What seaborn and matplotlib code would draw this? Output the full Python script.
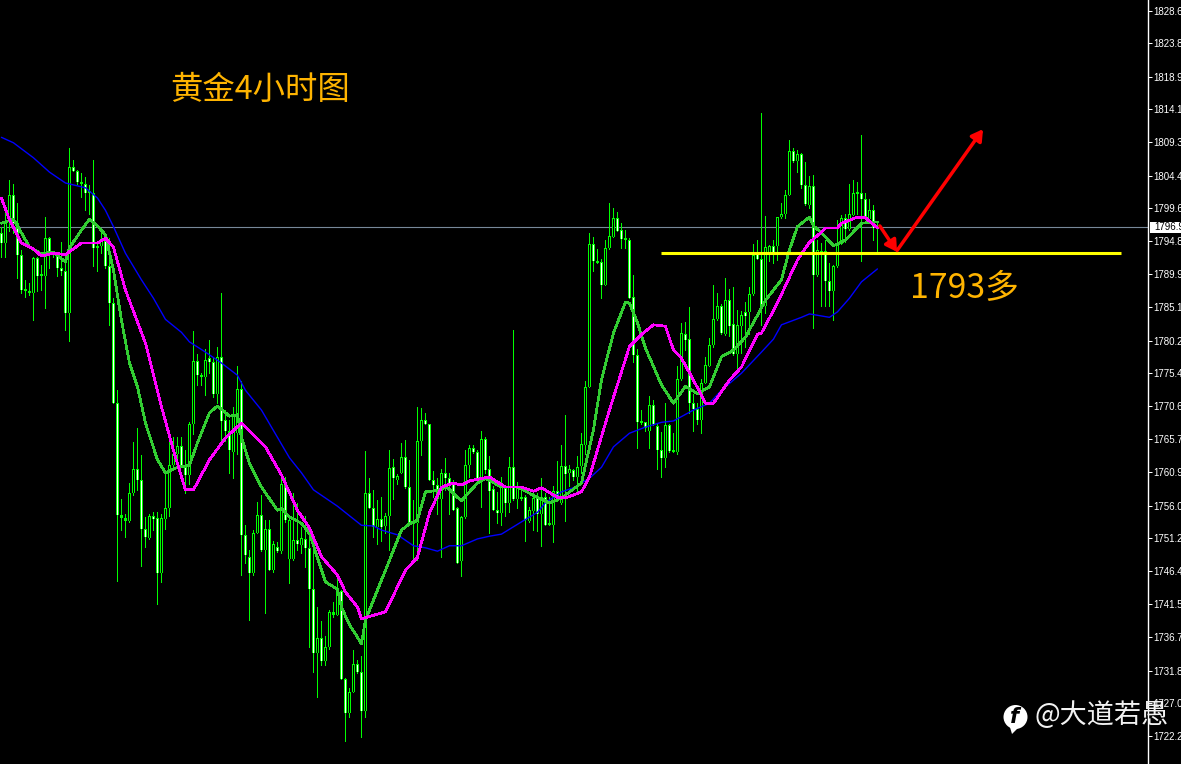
import seaborn as sns
import matplotlib.pyplot as plt
import pandas as pd
import numpy as np
from matplotlib.patches import Circle, Polygon, Rectangle
from matplotlib.transforms import IdentityTransform

# 4 hour gold candles
body_hi = [
    1795.9, 1797.5, 1801.5, 1801.5, 1797.5, 1792.7, 1787.7, 1787.3, 1792.3, 1792.3,
    1789.8, 1795.2, 1795.2, 1793.2, 1793.0, 1790.9, 1790.4, 1805.6, 1805.6, 1805.0,
    1803.5, 1803.2, 1802.0, 1801.9, 1794.1, 1794.8, 1794.8, 1791.2, 1785.7, 1771.1,
    1754.6, 1754.2, 1757.9, 1761.3, 1761.3, 1759.8, 1752.5, 1754.4, 1754.5, 1754.2,
    1754.2, 1755.7, 1761.9, 1763.5, 1764.7, 1764.8, 1761.7, 1768.0, 1777.2, 1777.2,
    1775.1, 1777.4, 1777.6, 1777.0, 1777.8, 1777.8, 1768.5, 1766.9, 1769.4, 1773.1,
    1773.1, 1751.7, 1748.5, 1752.0, 1754.6, 1754.6, 1752.5, 1752.5, 1750.4, 1749.9,
    1759.2, 1759.1, 1753.9, 1751.0, 1751.0, 1751.2, 1751.1, 1749.7, 1743.7, 1736.5,
    1736.5, 1735.2, 1740.4, 1740.4, 1743.5, 1743.4, 1730.6, 1728.7, 1732.8, 1732.8,
    1731.6, 1757.9, 1757.9, 1755.7, 1754.0, 1754.0, 1754.5, 1761.5, 1761.6, 1760.4,
    1763.1, 1763.1, 1758.7, 1753.4, 1765.4, 1768.6, 1768.6, 1767.9, 1759.8, 1759.0,
    1760.7, 1760.7, 1760.1, 1759.2, 1755.6, 1754.3, 1761.9, 1764.4, 1764.4, 1763.8,
    1765.8, 1765.8, 1761.3, 1758.4, 1755.4, 1758.8, 1758.6, 1761.6, 1761.6, 1758.8,
    1757.2, 1757.2, 1755.3, 1757.1, 1757.1, 1757.2, 1757.3, 1753.2, 1758.2, 1758.2,
    1761.8, 1761.8, 1761.3, 1761.2, 1761.7, 1765.0, 1773.4, 1794.3, 1794.3, 1791.8,
    1791.7, 1793.7, 1795.5, 1798.1, 1798.1, 1796.4, 1795.1, 1794.9, 1786.6, 1778.1,
    1768.4, 1768.2, 1770.8, 1770.8, 1767.6, 1764.2, 1767.8, 1767.8, 1764.0, 1774.6,
    1781.3, 1781.2, 1780.4, 1771.0, 1770.1, 1773.9, 1776.6, 1779.5, 1783.4, 1785.3,
    1785.2, 1786.2, 1786.2, 1782.6, 1782.5, 1783.9, 1784.4, 1787.0, 1792.7, 1793.0,
    1792.2, 1793.9, 1794.0, 1794.1, 1798.3, 1798.8, 1801.6, 1808.0, 1808.0, 1807.6,
    1807.6, 1803.0, 1802.9, 1802.8, 1793.5, 1793.4, 1793.4, 1789.0, 1791.1, 1794.4,
    1798.1, 1798.1, 1798.7, 1801.9, 1802.0, 1801.8, 1800.9, 1799.4, 1799.4, 1797.6,
]
body_lo = [
    1794.5, 1794.5, 1797.9, 1797.4, 1792.7, 1787.6, 1787.5, 1787.2, 1787.2, 1789.7,
    1789.7, 1789.7, 1793.3, 1793.1, 1790.9, 1790.4, 1784.2, 1784.3, 1805.0, 1803.4,
    1803.2, 1801.8, 1801.8, 1793.7, 1793.7, 1794.1, 1791.1, 1785.7, 1771.1, 1754.6,
    1754.2, 1753.8, 1753.8, 1757.9, 1759.8, 1752.6, 1751.4, 1751.3, 1754.0, 1746.1,
    1746.1, 1754.0, 1755.7, 1761.9, 1763.5, 1761.7, 1760.5, 1760.5, 1767.9, 1775.2,
    1774.8, 1774.8, 1777.0, 1772.3, 1772.4, 1768.4, 1766.9, 1764.1, 1763.9, 1766.7,
    1751.7, 1748.7, 1746.1, 1746.1, 1752.0, 1749.5, 1749.5, 1746.6, 1746.5, 1749.4,
    1749.4, 1753.9, 1748.1, 1748.1, 1750.3, 1750.2, 1749.7, 1743.7, 1734.3, 1734.3,
    1733.2, 1733.2, 1735.2, 1740.0, 1740.0, 1730.6, 1725.6, 1725.6, 1728.7, 1731.6,
    1725.8, 1725.9, 1755.7, 1752.9, 1752.9, 1752.9, 1753.0, 1754.4, 1760.0, 1759.8,
    1760.8, 1758.7, 1753.4, 1753.3, 1753.4, 1765.4, 1768.0, 1759.8, 1759.0, 1757.0,
    1757.0, 1760.1, 1759.2, 1755.4, 1747.6, 1747.8, 1754.3, 1761.9, 1763.9, 1759.9,
    1759.9, 1761.2, 1758.2, 1755.4, 1754.9, 1754.9, 1756.3, 1756.3, 1756.9, 1756.9,
    1756.9, 1753.9, 1753.8, 1755.2, 1754.8, 1754.8, 1753.2, 1753.1, 1753.2, 1756.7,
    1756.4, 1760.6, 1760.7, 1760.2, 1760.2, 1761.8, 1764.9, 1773.4, 1791.8, 1791.5,
    1788.4, 1788.4, 1793.7, 1795.4, 1796.3, 1795.1, 1794.9, 1786.5, 1778.1, 1768.3,
    1768.1, 1767.3, 1766.9, 1767.9, 1764.1, 1763.0, 1763.0, 1764.0, 1763.9, 1763.9,
    1774.5, 1780.3, 1771.0, 1770.1, 1768.5, 1768.6, 1774.0, 1776.5, 1779.5, 1783.4,
    1781.3, 1781.1, 1782.4, 1778.2, 1778.2, 1782.4, 1783.8, 1784.4, 1787.0, 1792.2,
    1785.2, 1785.2, 1792.9, 1792.9, 1794.1, 1798.3, 1798.8, 1801.6, 1806.6, 1806.6,
    1803.0, 1800.2, 1800.1, 1789.8, 1789.8, 1793.1, 1789.0, 1787.4, 1787.4, 1791.1,
    1794.4, 1796.5, 1796.5, 1798.6, 1801.7, 1800.9, 1798.3, 1798.0, 1796.7, 1797.5,
]
highs = [
    1796.9, 1799.3, 1803.7, 1803.2, 1800.3, 1793.5, 1789.1, 1788.6, 1792.5, 1792.5,
    1791.3, 1798.3, 1795.4, 1793.4, 1793.2, 1794.7, 1792.0, 1808.5, 1806.7, 1805.2,
    1804.7, 1804.2, 1803.0, 1806.7, 1794.4, 1795.9, 1795.4, 1795.3, 1786.4, 1773.0,
    1757.0, 1754.8, 1759.3, 1765.3, 1767.4, 1763.4, 1754.3, 1754.8, 1755.1, 1755.1,
    1754.8, 1761.2, 1766.8, 1766.1, 1766.1, 1766.1, 1764.1, 1768.3, 1781.6, 1778.2,
    1775.4, 1779.0, 1780.3, 1777.8, 1779.2, 1787.1, 1770.0, 1768.5, 1770.5, 1776.4,
    1774.2, 1753.1, 1749.5, 1752.4, 1756.5, 1757.5, 1753.9, 1753.9, 1750.8, 1750.7,
    1760.6, 1760.2, 1754.4, 1757.8, 1756.3, 1752.9, 1754.5, 1752.4, 1750.4, 1741.1,
    1739.0, 1736.8, 1740.7, 1741.9, 1745.6, 1743.6, 1730.7, 1729.2, 1734.8, 1733.4,
    1733.9, 1764.0, 1760.1, 1758.3, 1756.8, 1757.2, 1754.9, 1764.1, 1762.8, 1760.6,
    1765.1, 1765.6, 1762.7, 1756.8, 1770.4, 1770.3, 1769.5, 1768.0, 1761.0, 1760.0,
    1761.3, 1762.9, 1760.7, 1759.7, 1755.8, 1754.4, 1764.1, 1764.9, 1764.9, 1764.1,
    1766.9, 1766.1, 1763.2, 1758.8, 1758.0, 1760.2, 1759.0, 1763.1, 1781.8, 1759.5,
    1758.3, 1757.5, 1755.8, 1757.8, 1757.8, 1760.0, 1757.8, 1757.3, 1758.8, 1762.5,
    1764.9, 1769.3, 1761.9, 1761.4, 1763.2, 1766.6, 1774.3, 1796.0, 1795.4, 1793.6,
    1792.2, 1795.0, 1800.3, 1799.6, 1799.1, 1797.4, 1796.4, 1795.2, 1789.8, 1778.9,
    1770.0, 1768.3, 1772.0, 1771.5, 1768.0, 1766.8, 1771.0, 1768.0, 1766.6, 1776.4,
    1782.7, 1782.9, 1785.1, 1772.4, 1771.0, 1774.6, 1777.8, 1780.5, 1788.3, 1787.1,
    1785.5, 1789.3, 1787.8, 1788.0, 1784.7, 1784.6, 1785.9, 1788.1, 1794.3, 1794.9,
    1813.5, 1798.5, 1794.2, 1794.9, 1798.3, 1800.3, 1802.3, 1809.6, 1808.4, 1808.1,
    1807.7, 1806.4, 1804.3, 1804.5, 1794.9, 1794.5, 1795.0, 1791.5, 1791.3, 1797.9,
    1798.6, 1798.8, 1803.1, 1803.8, 1803.5, 1810.3, 1801.8, 1801.0, 1800.1, 1797.6,
]
lows = [
    1792.4, 1792.4, 1796.2, 1795.9, 1789.3, 1787.1, 1786.6, 1786.9, 1783.2, 1787.5,
    1787.6, 1784.9, 1790.8, 1792.5, 1789.6, 1789.8, 1781.7, 1780.2, 1805.0, 1803.2,
    1801.2, 1799.3, 1798.8, 1791.1, 1790.4, 1793.0, 1790.8, 1782.5, 1771.0, 1745.0,
    1752.4, 1751.4, 1753.6, 1757.6, 1758.3, 1747.2, 1749.9, 1751.1, 1752.4, 1741.6,
    1744.8, 1752.6, 1754.4, 1761.7, 1761.9, 1761.6, 1757.8, 1759.2, 1766.5, 1773.7,
    1773.7, 1772.2, 1775.4, 1771.9, 1771.0, 1765.6, 1765.4, 1760.7, 1760.1, 1763.6,
    1745.8, 1747.6, 1739.2, 1745.8, 1751.9, 1749.4, 1740.3, 1746.5, 1746.3, 1749.2,
    1749.1, 1753.6, 1744.6, 1748.0, 1749.5, 1749.0, 1747.0, 1735.3, 1731.6, 1727.9,
    1732.6, 1732.6, 1735.0, 1739.7, 1739.9, 1730.5, 1721.5, 1725.0, 1728.6, 1731.5,
    1722.1, 1725.0, 1755.6, 1751.4, 1750.4, 1750.8, 1751.9, 1749.5, 1757.0, 1759.2,
    1760.7, 1758.5, 1753.1, 1748.0, 1748.0, 1763.4, 1768.0, 1759.7, 1757.3, 1754.8,
    1748.5, 1758.3, 1754.8, 1755.3, 1747.5, 1745.7, 1754.1, 1760.2, 1763.7, 1759.7,
    1755.8, 1760.7, 1751.9, 1755.3, 1753.4, 1753.1, 1754.4, 1755.1, 1756.8, 1755.6,
    1756.8, 1750.8, 1753.6, 1752.4, 1752.2, 1750.0, 1753.1, 1753.1, 1750.6, 1756.6,
    1756.2, 1753.8, 1758.8, 1759.7, 1757.8, 1760.7, 1763.6, 1773.4, 1790.4, 1791.5,
    1786.5, 1788.3, 1793.6, 1795.4, 1796.2, 1793.7, 1793.7, 1786.4, 1777.1, 1764.5,
    1768.0, 1767.0, 1764.4, 1767.8, 1761.4, 1760.2, 1761.7, 1763.9, 1763.8, 1763.6,
    1774.4, 1778.8, 1769.5, 1766.9, 1768.0, 1766.7, 1773.9, 1776.4, 1779.3, 1783.2,
    1781.2, 1781.0, 1780.8, 1778.1, 1775.9, 1778.3, 1779.3, 1781.2, 1786.9, 1792.1,
    1782.5, 1784.2, 1791.8, 1791.5, 1792.0, 1798.1, 1798.1, 1801.5, 1806.4, 1804.9,
    1802.5, 1800.1, 1799.6, 1782.1, 1789.7, 1785.2, 1785.2, 1785.2, 1783.2, 1791.0,
    1794.4, 1794.7, 1796.4, 1798.6, 1798.8, 1791.9, 1798.1, 1797.9, 1794.9, 1793.0,
]
# u = black body (up), d = white body (down)
direction = (
    "duudddddud" "dudddddudd" "dddduudddd" "dduudddudd" "uuuuudduud"
    "dudduddduu" "ddduududud" "uduududddu" "duududduud" "dudduduudu"
    "uddduudddd" "udddduuudd" "uddddududu" "uduududdud" "ududuuuudd"
    "duuudddddd" "dduddduddu" "udddduuuuu" "dudduuduud" "duuduuuudu"
    "ddududdduu" "uduudddudd"
)

# moving averages, read at the candles where they bend
ma_blue_idx = [0, 3, 8, 12, 16, 21, 24, 26, 28, 31, 35, 38, 41, 45, 47, 51, 55, 59, 61, 65, 69, 72, 75, 78, 84, 90, 93, 95, 99, 103, 106, 109, 112, 115, 119, 122, 125, 130, 134, 136, 140, 143, 147, 150, 153, 157, 161, 165, 168, 173, 177, 180, 185, 190, 193, 195, 200, 202, 205, 207, 209, 212, 215, 219]
ma_blue = [1810.0, 1809.2, 1807.0, 1804.9, 1803.3, 1802.6, 1801.1, 1799.3, 1796.9, 1793.0, 1789.1, 1786.4, 1783.3, 1781.4, 1780.0, 1778.5, 1776.9, 1775.1, 1772.9, 1770.0, 1766.0, 1763.0, 1760.8, 1758.3, 1755.9, 1753.1, 1753.0, 1752.4, 1751.7, 1750.1, 1749.8, 1749.3, 1750.1, 1750.1, 1751.1, 1751.5, 1751.8, 1753.6, 1755.0, 1756.4, 1758.0, 1758.6, 1760.0, 1761.6, 1764.6, 1766.6, 1767.5, 1768.2, 1768.4, 1770.0, 1771.0, 1772.9, 1775.4, 1778.5, 1780.4, 1782.5, 1783.6, 1784.1, 1783.8, 1783.6, 1784.4, 1786.4, 1788.8, 1790.7]
ma_green_idx = [0, 3, 5, 7, 10, 13, 16, 17, 20, 22, 24, 26, 28, 30, 32, 34, 36, 39, 41, 44, 47, 49, 52, 54, 57, 59, 60, 62, 65, 69, 70, 72, 75, 77, 81, 84, 85, 87, 89, 90, 91, 94, 96, 100, 102, 104, 106, 110, 111, 114, 115, 119, 121, 125, 129, 134, 137, 140, 145, 148, 150, 153, 156, 157, 159, 161, 165, 168, 171, 174, 177, 180, 183, 186, 189, 191, 195, 197, 199, 202, 203, 205, 208, 211, 215, 219]
ma_green = [1797.4, 1798.0, 1796.0, 1793.9, 1792.9, 1793.2, 1791.7, 1793.8, 1796.4, 1798.0, 1797.0, 1795.7, 1790.5, 1783.2, 1776.9, 1773.4, 1768.1, 1762.7, 1760.8, 1761.6, 1761.9, 1765.2, 1769.6, 1770.6, 1769.1, 1769.3, 1766.0, 1762.2, 1758.7, 1755.3, 1755.6, 1754.3, 1753.4, 1751.9, 1744.8, 1743.7, 1741.1, 1738.5, 1736.7, 1735.7, 1739.2, 1743.6, 1746.5, 1752.4, 1753.3, 1753.9, 1758.0, 1758.3, 1758.9, 1757.2, 1756.7, 1759.3, 1760.0, 1758.7, 1758.7, 1757.2, 1756.4, 1757.1, 1759.3, 1767.1, 1774.4, 1781.3, 1785.8, 1785.7, 1782.8, 1779.1, 1773.7, 1771.0, 1773.5, 1772.4, 1773.4, 1777.8, 1778.8, 1780.7, 1783.9, 1786.1, 1789.1, 1793.5, 1796.9, 1798.3, 1797.0, 1796.0, 1794.1, 1794.9, 1797.4, 1797.6]
ma_pink_idx = [0, 2, 5, 8, 10, 13, 16, 20, 24, 26, 28, 31, 36, 40, 43, 46, 48, 52, 56, 60, 66, 70, 74, 77, 80, 84, 86, 89, 90, 96, 101, 104, 107, 110, 113, 115, 117, 122, 126, 130, 133, 135, 139, 141, 145, 147, 152, 157, 160, 163, 166, 168, 170, 173, 176, 178, 182, 185, 189, 190, 194, 199, 202, 205, 206, 209, 210, 214, 216, 219]
ma_pink = [1801.1, 1797.9, 1794.5, 1793.6, 1792.6, 1793.0, 1792.8, 1794.5, 1794.5, 1795.2, 1793.9, 1787.6, 1779.8, 1770.5, 1764.1, 1758.3, 1758.3, 1762.7, 1765.9, 1768.1, 1764.6, 1760.5, 1755.3, 1752.7, 1748.5, 1745.8, 1743.3, 1741.1, 1739.4, 1740.4, 1746.5, 1748.4, 1754.9, 1758.7, 1759.3, 1759.0, 1759.6, 1760.2, 1758.7, 1758.7, 1758.1, 1758.6, 1757.2, 1757.1, 1758.0, 1760.2, 1770.0, 1779.3, 1781.1, 1782.5, 1782.3, 1778.8, 1777.6, 1774.4, 1771.0, 1771.0, 1774.4, 1776.3, 1781.1, 1781.3, 1785.7, 1792.0, 1794.6, 1796.1, 1796.7, 1796.7, 1797.4, 1798.3, 1798.2, 1796.7]

tick_labels = ['1828.6', '1823.8', '1818.9', '1814.1', '1809.3', '1804.4', '1799.6', '1794.8',
               '1789.9', '1785.1', '1780.2', '1775.4', '1770.6', '1765.7', '1760.9', '1756.0',
               '1751.2', '1746.4', '1741.5', '1736.7', '1731.8', '1727.0', '1722.2']
last_price = 1796.9
support = 1793.0

W, H = 1181, 764
AXIS_X = 1148
PX_Y = 0.14667  # price per pixel

df = pd.DataFrame({'hi': highs, 'lo': lows, 'top': body_hi, 'bot': body_lo, 'dir': list(direction)})
df['i'] = np.arange(len(df))
df['fill'] = np.where(df['dir'] == 'u', 'black', 'white')
df['outer'] = np.maximum(df['top'] - df['bot'], 2 * PX_Y)

sns.set_style('dark', {'axes.facecolor': 'black', 'figure.facecolor': 'black'})
plt.rcParams['font.family'] = ['Noto Sans CJK SC', 'DejaVu Sans']

fig = plt.figure(figsize=(W / 100, H / 100), dpi=100)
ax = fig.add_axes([0, 0, AXIS_X / W, 1])
# 4 px per candle, offset so wick and body middle snap to the same pixel column
ax.set_xlim(-1.45 / 4, (AXIS_X - 1.45) / 4)
ax.set_ylim(1718.09, 1830.14)
ax.grid(False)

# current price line goes under the candles
ax.axhline(last_price, color='#778899', lw=0.8, zorder=1)

# candles: wick, green body, one pixel fill down the middle like the wick
ax.vlines(df['i'], df['lo'], df['hi'], color='#00ff00', lw=0.72, antialiased=False, zorder=2)
ax.bar(df['i'], df['outer'], bottom=df['bot'], width=0.75, color='#00ff00', linewidth=0,
       antialiased=False, zorder=3)
solid = df[df['outer'] > 3 * PX_Y]
ax.vlines(solid['i'], solid['bot'] + PX_Y, solid['top'] - PX_Y, colors=solid['fill'].tolist(),
          lw=0.72, antialiased=False, zorder=3.5)

# moving averages
sns.lineplot(x=ma_blue_idx, y=ma_blue, ax=ax, color='#0000ff', linewidth=1.0, sort=False,
             estimator=None, zorder=4)
sns.lineplot(x=ma_green_idx, y=ma_green, ax=ax, color='#32cd32', linewidth=1.25, sort=False,
             estimator=None, antialiased=False, zorder=5)
sns.lineplot(x=ma_pink_idx, y=ma_pink, ax=ax, color='#ff00ff', linewidth=1.25, sort=False,
             estimator=None, antialiased=False, zorder=6)

# hand drawn support line and arrows
ax.hlines(support, 164.9, 279.9, color='#ffff00', lw=2.2, zorder=7)
red_head = dict(arrowstyle='-|>,head_length=0.6,head_width=0.35', color='#ff0000', lw=2.5,
                shrinkA=0, shrinkB=0, mutation_scale=11)
ax.annotate('', xy=(223.9, 1793.2), xytext=(219.6, 1797.0), arrowprops=red_head, zorder=8)
ax.annotate('', xy=(245.4, 1811.2), xytext=(223.9, 1793.4), arrowprops=red_head, zorder=8)

# price axis on the right, MT4 style
for s in ['top', 'left', 'bottom']:
    ax.spines[s].set_visible(False)
ax.spines['right'].set_color('white')
ax.spines['right'].set_linewidth(1.0)
ax.set_xticks([])
ax.yaxis.tick_right()
ax.set_yticks([float(t) for t in tick_labels])
ax.set_yticklabels(tick_labels, family='Liberation Sans', fontsize=7, color='white')
ax.tick_params(axis='y', colors='white', length=3, width=0.72, pad=1)
ax.set_ylabel('')

# last price box
fig.patches.append(Rectangle((1150, H - 232.5), 31, 11, transform=IdentityTransform(),
                             facecolor='white', edgecolor='none', figure=fig, zorder=10))
fig.text(1154 / W, 1 - 227 / H, f'{last_price:.1f}', family='Liberation Sans', fontsize=7,
         color='black', va='center', ha='left', zorder=11)

# notes on the chart
orange = '#ffb400'
fig.text(170 / W, 1 - 90 / H, '黄金4小时图', color=orange, fontsize=23.3, va='center', ha='left')
fig.text(910 / W, 1 - 288.5 / H, '1793多', color=orange, fontsize=24.3, va='center', ha='left')

# watermark
fig.patches.append(Circle((1015.5, H - 717), 12, transform=IdentityTransform(),
                          facecolor='white', edgecolor='none', figure=fig, zorder=12))
fig.patches.append(Polygon([(1009, H - 724), (1020, H - 726), (1012, H - 734)],
                           transform=IdentityTransform(), facecolor='white', edgecolor='none',
                           figure=fig, zorder=12))
fig.text(1015 / W, 1 - 717 / H, 'f', family='DejaVu Sans', style='italic', weight='bold',
         fontsize=15, color='black', va='center', ha='center', zorder=13)
fig.text(1035 / W, 1 - 715 / H, '@大道若愚', color='#f2f2f2', fontsize=19.5, va='center',
         ha='left', zorder=13)

fig.savefig('out.png', dpi=100, facecolor='black')
